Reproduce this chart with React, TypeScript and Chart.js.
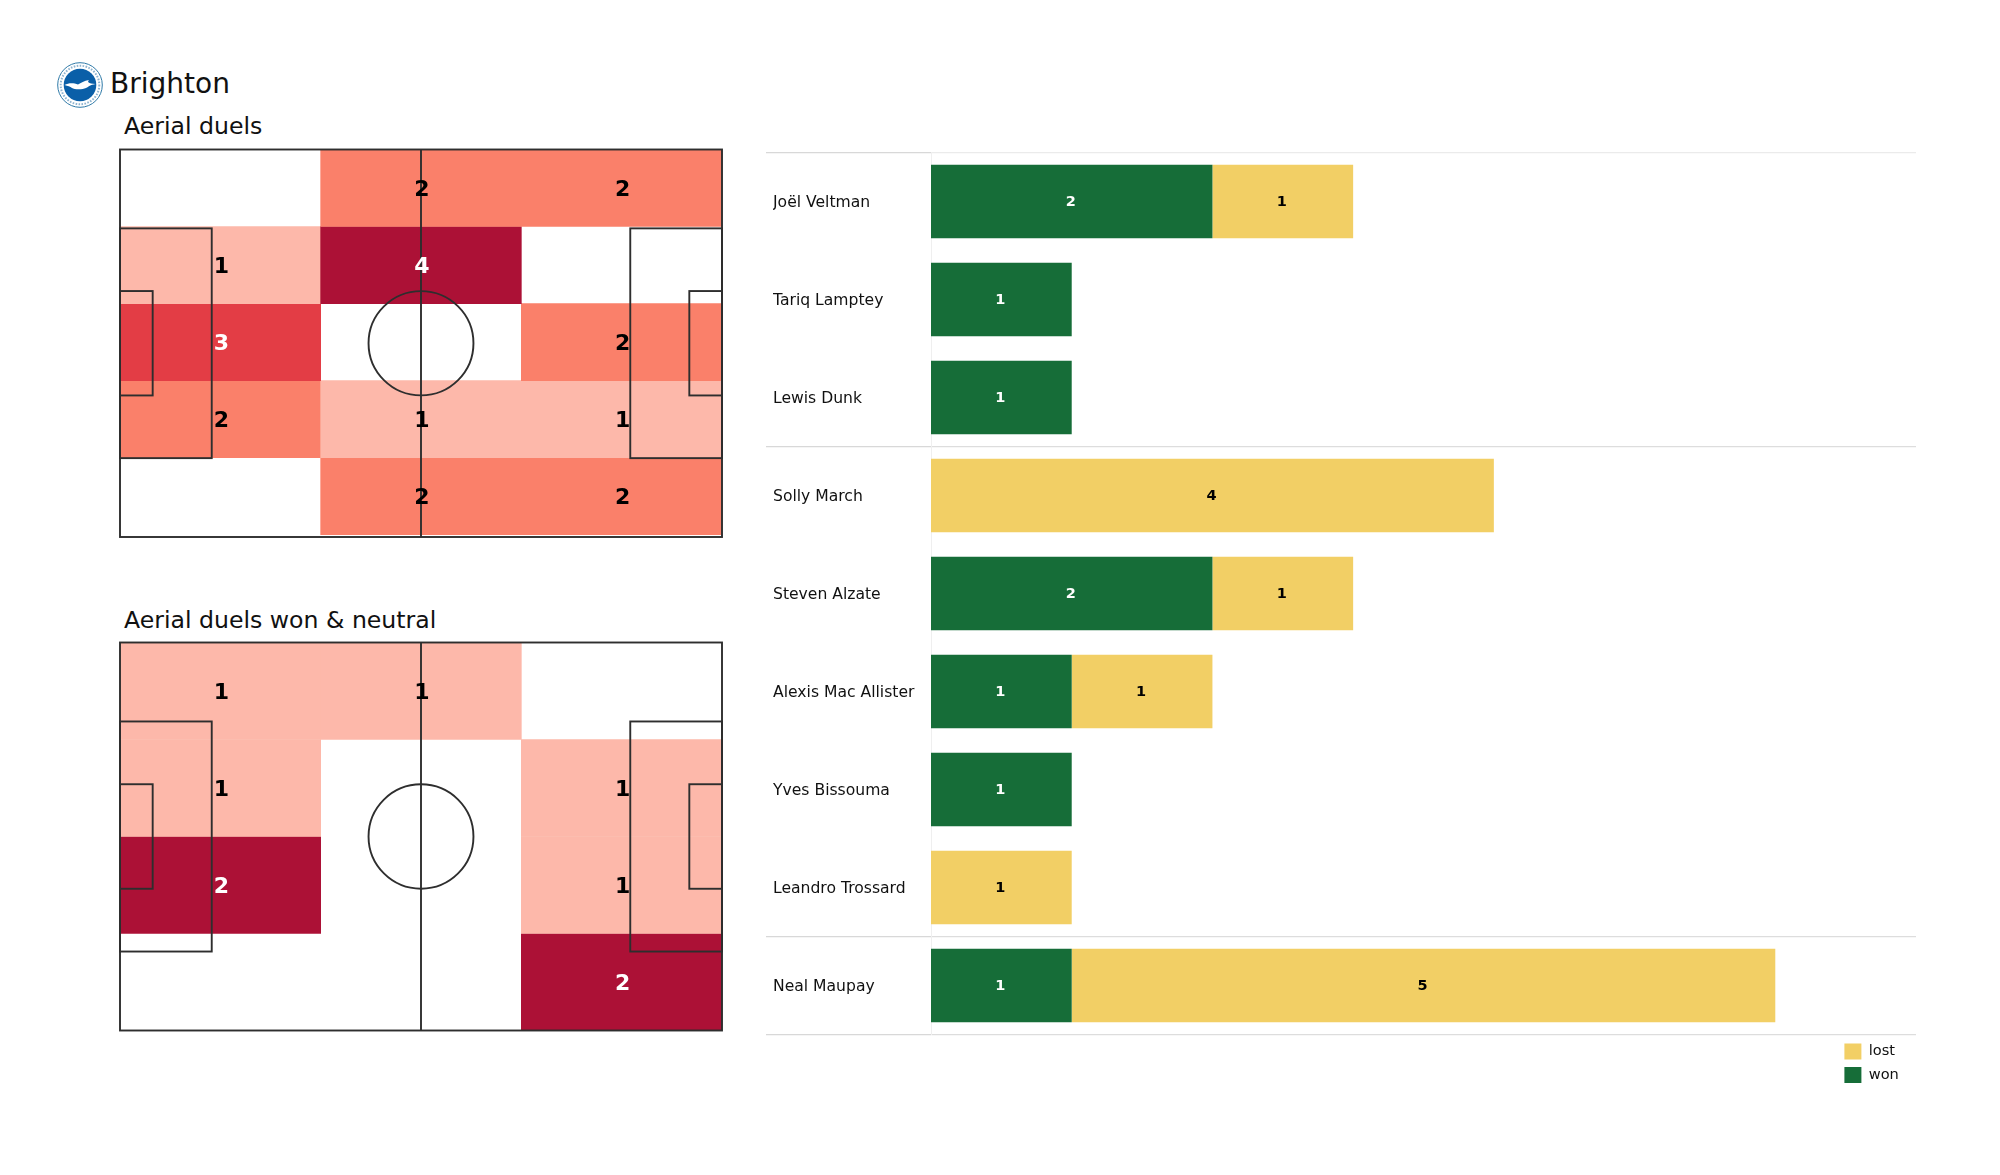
import React, { useEffect, useRef } from "react";
import { Chart, registerables } from "chart.js";

Chart.register(...registerables);

const FONT = '"DejaVu Sans"';

// ---- data ----
const pitchColumns = ["left", "centre", "right"];
const duelsGrid = [
  [0, 2, 2],
  [1, 4, 0],
  [3, 0, 2],
  [2, 1, 1],
  [0, 2, 2],
];
const wonNeutralGrid = [
  [1, 1, 0],
  [1, 0, 1],
  [2, 0, 1],
  [0, 0, 2],
];
const duelsPalette = ["#ffffff", "#FDB8AA", "#FA806A", "#E33D45", "#AC1136"];
const wonNeutralPalette = ["#ffffff", "#FDB8AA", "#AC1136"];
const duelsLightText = [3, 4];
const wonNeutralLightText = [2];

const players = [
  "Joël Veltman",
  "Tariq Lamptey",
  "Lewis Dunk",
  "Solly March",
  "Steven Alzate",
  "Alexis Mac Allister",
  "Yves Bissouma",
  "Leandro Trossard",
  "Neal Maupay",
];
const won = [2, 1, 1, 0, 2, 1, 1, 0, 1];
const lost = [1, 0, 0, 4, 1, 1, 0, 1, 5];
const groupBoundaries = [0, 3, 8, 9];

const GREEN = "#166D38";
const YELLOW = "#F2CF65";
const LINE = "#2e2e2e";

// pitch markings in metres
const PITCH_W = 105;
const PITCH_H = 68;
const PENALTY_X = 16;
const PENALTY_Y = [13.84, 54.16];
const SIX_X = 5.7;
const SIX_Y = [24.84, 43.16];
const CIRCLE_R = 9.15;

const pitchPlugin = {
  id: "pitchMarkings",
  afterDatasetsDraw(chart: any) {
    const { ctx } = chart;
    const sx = chart.scales.px;
    const sy = chart.scales.py;
    const X = (v: number) => sx.getPixelForValue(v);
    const Y = (v: number) => sy.getPixelForValue(v);
    const box = (x0: number, x1: number, y0: number, y1: number) =>
      ctx.strokeRect(X(x0), Y(y0), X(x1) - X(x0), Y(y1) - Y(y0));
    ctx.save();
    ctx.strokeStyle = LINE;
    ctx.lineWidth = 1.9;
    box(0, PITCH_W, 0, PITCH_H);
    box(0, PENALTY_X, PENALTY_Y[0], PENALTY_Y[1]);
    box(PITCH_W - PENALTY_X, PITCH_W, PENALTY_Y[0], PENALTY_Y[1]);
    box(0, SIX_X, SIX_Y[0], SIX_Y[1]);
    box(PITCH_W - SIX_X, PITCH_W, SIX_Y[0], SIX_Y[1]);
    ctx.beginPath();
    ctx.moveTo(X(PITCH_W / 2), Y(0));
    ctx.lineTo(X(PITCH_W / 2), Y(PITCH_H));
    ctx.stroke();
    ctx.beginPath();
    ctx.ellipse(
      X(PITCH_W / 2),
      Y(PITCH_H / 2),
      X(PITCH_W / 2 + CIRCLE_R) - X(PITCH_W / 2),
      Y(PITCH_H / 2 + CIRCLE_R) - Y(PITCH_H / 2),
      0,
      0,
      Math.PI * 2
    );
    ctx.stroke();
    ctx.restore();
  },
};

const cellLabelPlugin = {
  id: "cellLabels",
  afterDraw(chart: any, _a: any, opts: any) {
    const { ctx } = chart;
    ctx.save();
    ctx.font = `bold 22px ${FONT}`;
    ctx.textAlign = "center";
    ctx.textBaseline = "middle";
    opts.grid.forEach((row: number[], r: number) => {
      row.forEach((v, c) => {
        if (!v) return;
        ctx.fillStyle = opts.light.includes(v) ? "#ffffff" : "#000000";
        ctx.fillText(
          String(v),
          chart.scales.x.getPixelForValue(c) + 1,
          chart.scales.y.getPixelForValue(r + 0.5) + 2
        );
      });
    });
    ctx.restore();
  },
};

const barLabelPlugin = {
  id: "barLabels",
  afterDatasetsDraw(chart: any) {
    const { ctx } = chart;
    ctx.save();
    ctx.font = `bold 14.5px ${FONT}`;
    ctx.textAlign = "center";
    ctx.textBaseline = "middle";
    chart.data.datasets.forEach((ds: any, d: number) => {
      const meta = chart.getDatasetMeta(d);
      ds.data.forEach((v: number, i: number) => {
        if (!v) return;
        const el = meta.data[i];
        ctx.fillStyle = ds.label === "won" ? "#ffffff" : "#000000";
        ctx.fillText(String(v), (el.x + el.base) / 2 - 1, el.y + 1);
      });
    });
    ctx.restore();
  },
};

const legendPlugin = {
  id: "legendPlacement",
  afterLayout(chart: any, _a: any, opts: any) {
    const l = chart.legend;
    if (!l) return;
    l.left = opts.left;
    l.top = opts.top;
    l.right = opts.left + 100;
    l.bottom = opts.top + 70;
    l.width = 100;
    l.height = 70;
  },
};

function Pitch({ grid, palette, light, rowSpan, left, top, width, height, pad }: any) {
  const ref = useRef<HTMLCanvasElement>(null);
  useEffect(() => {
    const datasets = grid.map((row: number[], r: number) => ({
      label: `row ${r + 1}`,
      data: row.map((v) => (v ? [r, r + 1] : null)),
      backgroundColor: row.map((v) => palette[v]),
      borderWidth: 0,
      barPercentage: 1,
      categoryPercentage: 1,
      grouped: false,
      yAxisID: "y",
      xAxisID: "x",
    }));
    const chart = new Chart(ref.current as HTMLCanvasElement, {
      type: "bar",
      data: { labels: pitchColumns, datasets },
      plugins: [pitchPlugin, cellLabelPlugin],
      options: {
        responsive: false,
        animation: false,
        layout: { padding: pad },
        plugins: {
          legend: { display: false },
          tooltip: { enabled: false },
          cellLabels: { grid, light },
        },
        scales: {
          x: { display: false },
          y: { display: false, reverse: true, min: 0, max: rowSpan },
          px: { display: false, type: "linear", axis: "x", offset: false, grid: { offset: false }, min: 0, max: PITCH_W },
          py: { display: false, type: "linear", axis: "y", offset: false, reverse: true, min: 0, max: PITCH_H },
        },
      },
    } as any);
    return () => chart.destroy();
  }, []);
  return (
    <canvas
      ref={ref}
      width={width}
      height={height}
      style={{ position: "absolute", left, top, width, height }}
    />
  );
}

function Bars() {
  const ref = useRef<HTMLCanvasElement>(null);
  useEffect(() => {
    const idx = (c: any) => (c.index === undefined ? players.length : c.index);
    const isBoundary = (c: any) => groupBoundaries.includes(idx(c));
    const chart = new Chart(ref.current as HTMLCanvasElement, {
      type: "bar",
      data: {
        labels: players,
        datasets: [
          { label: "won", data: won, backgroundColor: GREEN, borderWidth: 0, barPercentage: 0.75, categoryPercentage: 1 },
          { label: "lost", data: lost, backgroundColor: YELLOW, borderWidth: 0, barPercentage: 0.75, categoryPercentage: 1 },
        ],
      },
      plugins: [barLabelPlugin, legendPlugin],
      options: {
        indexAxis: "y",
        responsive: false,
        animation: false,
        layout: { padding: { left: 13, right: 14, top: 27.5, bottom: 70.5 } },
        plugins: {
          tooltip: { enabled: false },
          legendPlacement: { left: 1837 - 760, top: 1036.2 - 125 },
          legend: {
            position: "chartArea",
            align: "start",
            reverse: true,
            labels: {
              boxWidth: 17,
              boxHeight: 16,
              padding: 7.4,
              color: "#111111",
              font: { family: FONT, size: 14.6 },
            },
          },
        },
        scales: {
          x: { display: false, stacked: true, min: 0, max: 7 },
          y: {
            stacked: true,
            offset: true,
            afterFit: (s: any) => {
              s.width = 158;
            },
            border: { color: "#efefef", width: 1 },
            grid: {
              offset: true,
              drawTicks: true,
              tickLength: 165,
              color: (c: any) =>
                isBoundary(c) ? (idx(c) === 0 ? "#ebebeb" : "#dddddd") : "rgba(0,0,0,0)",
              tickColor: (c: any) => (isBoundary(c) ? "#d8d8d8" : "rgba(0,0,0,0)"),
              lineWidth: (c: any) => (isBoundary(c) ? 1.3 : 0),
              tickWidth: (c: any) => (isBoundary(c) ? 1.3 : 0),
            },
            ticks: {
              autoSkip: false,
              crossAlign: "far",
              labelOffset: 1.5,
              color: "#111111",
              font: { family: FONT, size: 15.6 },
            },
          },
        },
      },
    } as any);
    return () => chart.destroy();
  }, []);
  return (
    <canvas
      ref={ref}
      width={1170}
      height={980}
      style={{ position: "absolute", left: 760, top: 125, width: 1170, height: 980 }}
    />
  );
}

function Crest() {
  return (
    <svg
      width={46}
      height={46}
      viewBox="0 0 46 46"
      style={{ position: "absolute", left: 57, top: 62 }}
    >
      <circle cx="23" cy="23" r="22.3" fill="#ffffff" stroke="#2f7aa8" strokeWidth="1" />
      <circle cx="23" cy="23" r="19.3" fill="none" stroke="#8fb4d0" strokeWidth="2" strokeDasharray="1.6 1.4" />
      <circle cx="23" cy="23" r="16.3" fill="#0a5fa8" />
      <path
        d="M7.5 23 C12 20.5 17 21 21 22.5 C24 21 27 18.5 32 18 C30 20 31 21.5 38.5 22 C33 23 32 24.5 29 26 C25 28 17 27.5 15 26 C13 24.5 11 24 7.5 23Z"
        fill="#ffffff"
      />
    </svg>
  );
}

const titleStyle = (left: number, top: number, size: number): React.CSSProperties => ({
  position: "absolute",
  left,
  top,
  fontFamily: FONT,
  fontSize: size,
  lineHeight: `${Math.round(size * 1.2)}px`,
  color: "#111111",
  whiteSpace: "nowrap",
});

export default function App() {
  useEffect(() => {
    document.body.style.margin = "0";
  }, []);
  return (
    <div
      style={{
        position: "absolute",
        left: 0,
        top: 0,
        width: 2000,
        height: 1175,
        background: "#ffffff",
        overflow: "hidden",
      }}
    >
      <Crest />
      <div style={titleStyle(110, 67, 28)}>Brighton</div>
      <div style={titleStyle(124, 111.5, 23.6)}>Aerial duels</div>
      <div style={titleStyle(124, 605.5, 23.6)}>Aerial duels won &amp; neutral</div>
      <Pitch
        grid={duelsGrid}
        palette={duelsPalette}
        light={duelsLightText}
        rowSpan={5.03}
        left={110}
        top={140}
        width={625}
        height={410}
        pad={{ left: 10, right: 13, top: 9.5, bottom: 13 }}
      />
      <Pitch
        grid={wonNeutralGrid}
        palette={wonNeutralPalette}
        light={wonNeutralLightText}
        rowSpan={4}
        left={110}
        top={632}
        width={625}
        height={410}
        pad={{ left: 10, right: 13, top: 10.5, bottom: 11.5 }}
      />
      <Bars />
    </div>
  );
}
